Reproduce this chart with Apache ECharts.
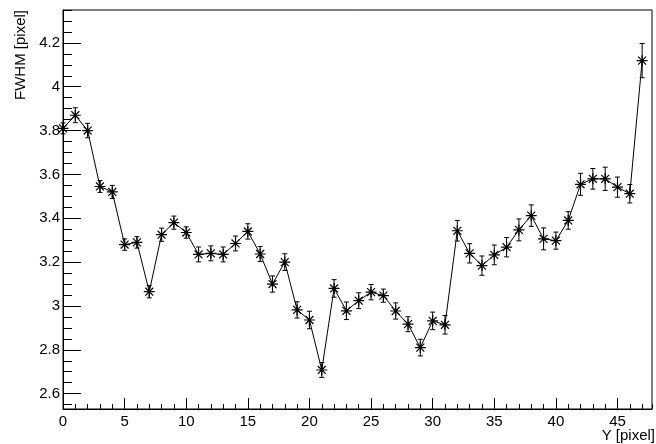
<!DOCTYPE html>
<html>
<head>
<meta charset="utf-8">
<script src="https://cdn.jsdelivr.net/npm/echarts@6/dist/echarts.min.js"></script>
<style>
  html, body { margin: 0; padding: 0; background: #fff; }
  #chart { width: 656px; height: 444px; }
</style>
</head>
<body>
<div id="chart"></div>
<script>
// pixel row index (Y) and measured FWHM with its error
var yPixel = [0, 1, 2, 3, 4, 5, 6, 7, 8, 9, 10, 11, 12, 13, 14, 15, 16, 17, 18, 19, 20, 21, 22, 23,
  24, 25, 26, 27, 28, 29, 30, 31, 32, 33, 34, 35, 36, 37, 38, 39, 40, 41, 42, 43, 44, 45, 46, 47];
var fwhm = [3.81, 3.87, 3.80, 3.545, 3.52, 3.28, 3.29, 3.065, 3.325, 3.38, 3.335, 3.235,
  3.24, 3.235, 3.285, 3.34, 3.237, 3.10, 3.20, 2.982, 2.936, 2.708, 3.08, 2.978,
  3.024, 3.063, 3.047, 2.977, 2.917, 2.81, 2.932, 2.914, 3.343, 3.24, 3.184, 3.233,
  3.268, 3.347, 3.412, 3.306, 3.298, 3.39, 3.555, 3.58, 3.58, 3.542, 3.512, 4.119];
var fwhmErr = [0.025, 0.034, 0.033, 0.027, 0.03, 0.026, 0.026, 0.028, 0.03, 0.03, 0.026, 0.034,
  0.034, 0.034, 0.034, 0.035, 0.034, 0.037, 0.038, 0.037, 0.04, 0.034, 0.04, 0.04,
  0.036, 0.035, 0.03, 0.037, 0.034, 0.038, 0.04, 0.042, 0.047, 0.044, 0.044, 0.045,
  0.044, 0.05, 0.049, 0.05, 0.039, 0.04, 0.05, 0.047, 0.053, 0.046, 0.042, 0.078];

var chart = echarts.init(document.getElementById('chart'));

var points = yPixel.map(function (x, i) { return [x, fwhm[i]]; });
var bars = yPixel.map(function (x, i) { return [x, fwhm[i] - fwhmErr[i], fwhm[i] + fwhmErr[i]]; });

var font = 'Liberation Sans, Arial, Helvetica, sans-serif';
var star = 'path://M0,-5L0,5M-5,0L5,0M-3.6,-3.6L3.6,3.6M-3.6,3.6L3.6,-3.6';

var option = {
  animation: false,
  backgroundColor: '#fff',
  grid: {
    left: 63, right: 4, top: 10, bottom: 35,
    show: true, borderColor: '#000', borderWidth: 1
  },
  xAxis: [{
    type: 'value',
    min: 0, max: 47.8, interval: 5,
    axisLine: { lineStyle: { color: '#000', width: 1 } },
    axisTick: { inside: true, length: 11, lineStyle: { color: '#000' } },
    splitLine: { show: false },
    axisLabel: { color: '#000', fontSize: 15, fontFamily: font, margin: 5, showMaxLabel: false }
  }, {
    // minor ticks, every unit
    type: 'value', position: 'bottom',
    min: 0, max: 47.8, interval: 1,
    axisLine: { show: false },
    axisTick: { inside: true, length: 5, lineStyle: { color: '#000' } },
    splitLine: { show: false },
    axisLabel: { show: false }
  }],
  yAxis: [{
    type: 'value',
    min: 2.53, max: 4.35, splitNumber: 9,
    axisLine: { lineStyle: { color: '#000', width: 1 } },
    axisTick: { inside: true, length: 18, lineStyle: { color: '#000' } },
    splitLine: { show: false },
    axisLabel: {
      color: '#000', fontSize: 15, fontFamily: font, margin: 3,
      showMinLabel: false, showMaxLabel: false,
      formatter: function (v) { return String(Math.round(v * 10) / 10); }
    }
  }, {
    // minor ticks, every 0.05
    type: 'value', position: 'left',
    min: 2.53, max: 4.35, splitNumber: 36,
    axisLine: { show: false },
    axisTick: { inside: true, length: 9, lineStyle: { color: '#000' } },
    splitLine: { show: false },
    axisLabel: { show: false }
  }],
  graphic: [
    {
      type: 'text', x: 21, y: 10, rotation: Math.PI / 2,
      style: { text: 'FWHM [pixel]', fill: '#000', font: '15px ' + font, textAlign: 'right', textVerticalAlign: 'middle' }
    },
    {
      type: 'text', x: 655, y: 436,
      style: { text: 'Y [pixel]', fill: '#000', font: '15px ' + font, textAlign: 'right', textVerticalAlign: 'middle' }
    }
  ],
  series: [
    {
      type: 'custom',
      data: bars,
      z: 3,
      renderItem: function (params, api) {
        var lo = api.coord([api.value(0), api.value(1)]);
        var hi = api.coord([api.value(0), api.value(2)]);
        var w = 2.5;
        var ls = { stroke: '#000', lineWidth: 1 };
        return {
          type: 'group',
          children: [
            { type: 'line', shape: { x1: lo[0], y1: lo[1], x2: hi[0], y2: hi[1] }, style: ls },
            { type: 'line', shape: { x1: lo[0] - w, y1: lo[1], x2: lo[0] + w, y2: lo[1] }, style: ls },
            { type: 'line', shape: { x1: hi[0] - w, y1: hi[1], x2: hi[0] + w, y2: hi[1] }, style: ls }
          ]
        };
      }
    },
    {
      type: 'line',
      data: points,
      z: 4,
      symbol: star,
      symbolSize: 11,
      showAllSymbol: true,
      lineStyle: { color: '#000', width: 1 },
      itemStyle: { color: 'rgba(0,0,0,0)', borderColor: '#000', borderWidth: 1.2 }
    }
  ]
};

chart.setOption(option);
</script>
</body>
</html>
